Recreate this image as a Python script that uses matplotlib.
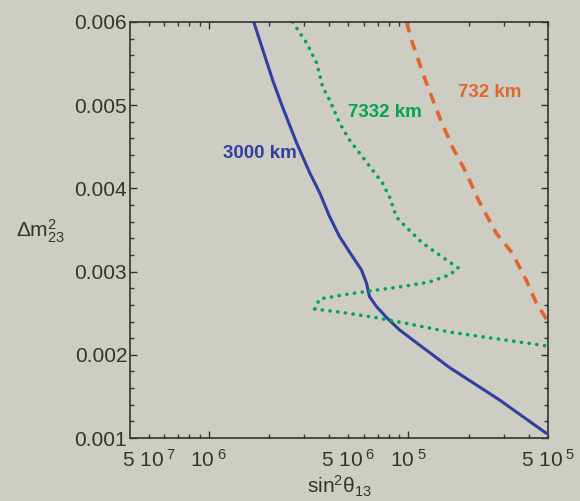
import matplotlib.pyplot as plt
from matplotlib.ticker import FixedLocator, NullFormatter

plt.rcParams["font.family"] = ["Liberation Sans", "DejaVu Sans"]
plt.rcParams["mathtext.fontset"] = "custom"
plt.rcParams["mathtext.rm"] = "Liberation Sans"
plt.rcParams["mathtext.it"] = "Liberation Sans"

bg = "#cdcdc3"
ink = "#333333"

# baseline curves, sin^2(theta13) vs delta m^2_23
x_3000 = [1.68e-6, 2.09e-6, 2.34e-6, 2.75e-6, 3.20e-6, 3.59e-6, 4.03e-6, 4.52e-6,
          5.25e-6, 5.82e-6, 6.17e-6, 6.38e-6, 6.92e-6, 7.76e-6, 9.02e-6, 1.05e-5,
          1.60e-5, 2.85e-5, 4.95e-5]
y_3000 = [0.00600, 0.00530, 0.00498, 0.00455, 0.00419, 0.00395, 0.00366, 0.00342,
          0.00318, 0.00302, 0.00286, 0.00270, 0.00258, 0.00245, 0.00230, 0.00218,
          0.00185, 0.00146, 0.00105]

x_7332 = [2.63e-6, 3.09e-6, 3.47e-6, 3.72e-6, 4.03e-6, 4.52e-6, 5.07e-6, 5.69e-6,
          6.61e-6, 7.41e-6, 8.04e-6, 8.71e-6, 9.50e-6, 1.175e-5, 1.479e-5, 1.778e-5,
          1.60e-5, 1.27e-5, 9.02e-6, 6.38e-6, 4.68e-6, 3.59e-6, 3.47e-6, 3.39e-6,
          4.52e-6, 6.61e-6, 9.02e-6, 1.60e-5, 4.95e-5]
y_7332 = [0.00600, 0.005748, 0.005507, 0.005219, 0.005062, 0.004786, 0.004582, 0.004425,
          0.004221, 0.004065, 0.003897, 0.003656, 0.003560, 0.003344, 0.003175, 0.003043,
          0.002959, 0.002875, 0.002815, 0.002767, 0.002719, 0.002671, 0.002599, 0.002550,
          0.002514, 0.002454, 0.002394, 0.002274, 0.002106]

x_732 = [9.77e-6, 1.047e-5, 1.23e-5, 1.43e-5, 1.66e-5, 1.95e-5, 2.24e-5, 2.75e-5,
         3.31e-5, 3.89e-5, 4.37e-5, 4.95e-5]
y_732 = [0.00600, 0.005748, 0.005267, 0.004858, 0.004498, 0.004185, 0.003861, 0.003464,
         0.003224, 0.002899, 0.002623, 0.002418]

xtick_vals = [5e-7, 1e-6, 5e-6, 1e-5, 5e-5]
xtick_text = [r"$\mathregular{5\ 10^{\ 7}}$", r"$\mathregular{10^{\ 6}}$",
              r"$\mathregular{5\ 10^{\ 6}}$", r"$\mathregular{10^{\ 5}}$",
              r"$\mathregular{5\ 10^{\ 5}}$"]
ytick_vals = [0.001, 0.002, 0.003, 0.004, 0.005, 0.006]
ytick_text = ["0.001", "0.002", "0.003", "0.004", "0.005", "0.006"]

fig = plt.figure(figsize=(5.8, 5.01), dpi=100, facecolor=bg)
ax = fig.add_axes([0.2241, 0.1257, 0.7207, 0.8304], facecolor=bg)

ax.plot(x_3000, y_3000, color="#3040a0", lw=2.2, solid_capstyle="butt")
ax.plot(x_7332, y_7332, color="#00a552", lw=2.6, linestyle=(0, (0.05, 2.1)),
        dash_capstyle="round")
ax.plot(x_732, y_732, color="#e0662c", lw=2.6, linestyle=(0, (3.0, 2.2)),
        dash_capstyle="butt")

lab = dict(fontsize=13.5, fontweight="bold", ha="center", va="center")
ax.text(1.80e-6, 0.00442, "3000 km", color="#3040a0", **lab)
ax.text(7.60e-6, 0.00491, "7332 km", color="#00a552", **lab)
ax.text(2.54e-5, 0.00515, "732 km", color="#e0662c", **lab)

ax.set_xscale("log")
ax.set_xlim(4.03e-7, 5e-5)
ax.set_ylim(0.001, 0.006)

minors = [m * 10.0 ** e for e in (-7, -6, -5) for m in range(2, 10)]
ax.set_xticks(xtick_vals, xtick_text)
ax.xaxis.set_minor_locator(FixedLocator([v for v in minors if v not in xtick_vals]))
ax.xaxis.set_minor_formatter(NullFormatter())

ax.set_yticks(ytick_vals, ytick_text)
ax.yaxis.set_minor_locator(FixedLocator([0.001 + 0.0002 * i for i in range(26)]))

ax.tick_params(which="both", direction="in", top=True, right=True, color=ink,
               labelcolor=ink, labelsize=15, width=1)
ax.tick_params(which="major", length=5)
ax.tick_params(which="minor", length=3)
ax.tick_params(axis="x", pad=8)
ax.tick_params(axis="y", pad=2)
# 5e-7/5e-6/5e-5 are labelled positions but drawn as short ticks
for t, v in zip(ax.xaxis.get_major_ticks(), xtick_vals):
    if v in (5e-7, 5e-6, 5e-5):
        t.tick1line.set_markersize(3)
        t.tick2line.set_markersize(3)

for s in ax.spines.values():
    s.set_color(ink)
    s.set_linewidth(1.2)

ax.set_xlabel(r"$\mathregular{sin^2\theta_{13}}$", fontsize=15, color=ink, labelpad=2)
ax.set_ylabel(r"$\mathregular{\Delta m^2_{23}}$", fontsize=15, color=ink,
              rotation=0, ha="center", va="center")
ax.yaxis.set_label_coords(-0.215, 0.497)

fig.savefig("out.png", dpi=100, facecolor=bg)
